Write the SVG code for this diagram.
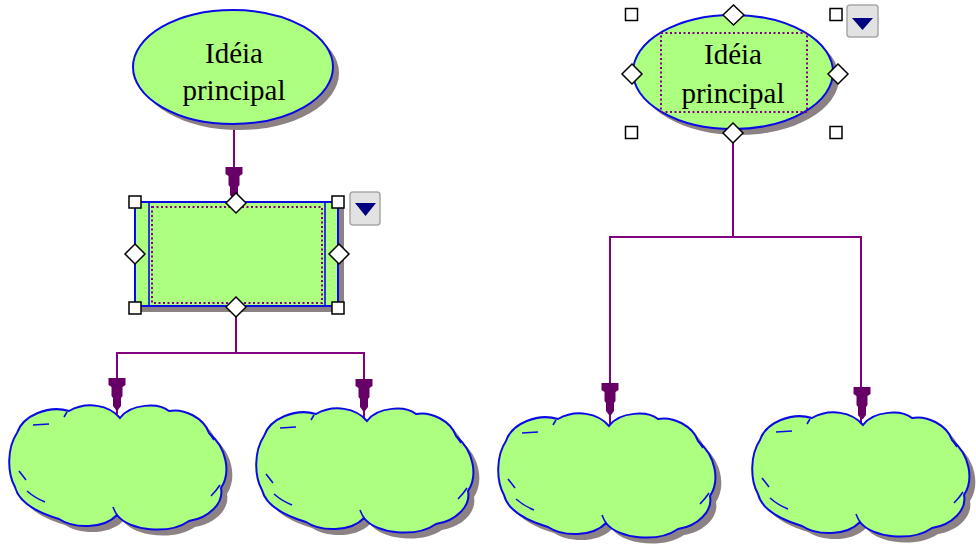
<svg xmlns="http://www.w3.org/2000/svg" xmlns:xlink="http://www.w3.org/1999/xlink" width="976" height="546" viewBox="0 0 976 546">
<style>
.shape{fill:#adff80;stroke:#0a0ae6;stroke-width:2}
.shadow{fill:#8c8284}
.line{fill:none;stroke:#800080;stroke-width:2}
.arrow{fill:#660066}
.dots{fill:none;stroke:#800080;stroke-width:2;stroke-dasharray:2 2.5}
.handle{fill:#fff;stroke:#000;stroke-width:1.5}
.mark{fill:none;stroke:#0a0ae6;stroke-width:1.6}
.txt{font-family:"Liberation Serif","Times New Roman",serif;font-size:29px;fill:#000;text-anchor:middle}
.btn{fill:#e2e2e2;stroke:#a8a8a8;stroke-width:1.5}
.tri{fill:#000080}
</style>
<defs>
<path id="cloudPath" d="M111,15 C100,2 78,-2 60,8 C40,2 14,12 8,30 C-2,45 -2,70 6,84 C10,100 30,110 50,116 C65,126 95,126 108,112 C120,128 160,132 180,118 C200,115 215,100 212,85 C222,70 218,45 200,30 C195,15 175,5 160,8 C150,0 122,0 111,15 Z"/>
<g id="cloudMarks">
<path class="mark" d="M24,22 L40,21"/>
<path class="mark" d="M58,9 L55,14"/>
<path class="mark" d="M10,68 Q14,73 17,77"/>
<path class="mark" d="M18,88 Q26,95 36,99"/>
<path class="mark" d="M104,104 Q106,109 108,112"/>
<path class="mark" d="M202,93 Q207,88 211,82"/>
<path class="mark" d="M200,30 Q203,34 205,37"/>
</g>
<path id="arr" d="M-8.5,-32 L8.5,-32 L8.5,-25 L5.5,-23 L5.5,-14 L4,-12 L4,-4 L1,0 L-1,0 L-4,-4 L-4,-12 L-5.5,-14 L-5.5,-23 L-8.5,-25 Z"/>
</defs>

<g id="connectors">
<path class="line" d="M234,124 V200"/>
<path class="line" d="M236,306 V353 M117,414 V353 H364 V420"/>
<path class="line" d="M733,133 V237 M610,425 V237 H861 V423"/>
<use href="#arr" class="arrow" transform="translate(234,199)"/>
<use href="#arr" class="arrow" transform="translate(117,410)"/>
<use href="#arr" class="arrow" transform="translate(364,411)"/>
<use href="#arr" class="arrow" transform="translate(610,415)"/>
<use href="#arr" class="arrow" transform="translate(862,419)"/>
</g>

<g id="idea-left">
<ellipse class="shadow" cx="239" cy="73" rx="100" ry="57"/>
<ellipse class="shape" cx="233" cy="67" rx="100" ry="57"/>
<text class="txt" x="234" y="63">Idéia</text>
<text class="txt" x="234" y="100">principal</text>
</g>

<g id="process-node">
<rect class="shadow" x="141" y="208" width="203" height="104"/>
<rect class="shape" x="135" y="202" width="203" height="104"/>
<path class="mark" d="M149,202 V306 M325,202 V306"/>
<rect class="dots" x="152" y="207" width="170" height="96"/>
<rect class="handle" x="129" y="196" width="12" height="12"/>
<rect class="handle" x="332" y="196" width="12" height="12"/>
<rect class="handle" x="129" y="302" width="12" height="12"/>
<rect class="handle" x="332" y="302" width="12" height="12"/>
<polygon class="handle" points="236,193 246,203 236,213 226,203"/>
<polygon class="handle" points="236,297 246,307 236,317 226,307"/>
<polygon class="handle" points="135,244 145,254 135,264 125,254"/>
<polygon class="handle" points="339,244 349,254 339,264 329,254"/>
<rect class="btn" x="350" y="192" width="30" height="33" rx="3"/>
<polygon class="tri" points="355,203 376,203 365.5,216"/>
</g>

<g id="idea-right">
<ellipse class="shadow" cx="739" cy="78" rx="100" ry="57"/>
<ellipse class="shape" cx="733" cy="72" rx="100" ry="57"/>
<rect class="dots" x="661" y="33" width="146" height="79"/>
<text class="txt" x="733" y="64">Idéia</text>
<text class="txt" x="733" y="103">principal</text>
<rect class="handle" x="625.5" y="8.5" width="12" height="12"/>
<rect class="handle" x="830" y="8.5" width="12" height="12"/>
<rect class="handle" x="625.5" y="126.5" width="12" height="12"/>
<rect class="handle" x="830" y="126.5" width="12" height="12"/>
<polygon class="handle" points="733.5,5 744,15 733.5,25 723,15"/>
<polygon class="handle" points="733,123 743,133 733,143 723,133"/>
<polygon class="handle" points="632,64 642,74 632,84 622,74"/>
<polygon class="handle" points="838,64 848,74 838,84 828,74"/>
<rect class="btn" x="847" y="5" width="31" height="32" rx="3"/>
<polygon class="tri" points="852,18 873,18 862.5,30"/>
</g>

<g id="cloud-1" transform="translate(9,403)">
<use href="#cloudPath" class="shadow" transform="translate(6,6)"/>
<use href="#cloudPath" class="shape"/>
<use href="#cloudMarks"/>
</g>
<g id="cloud-2" transform="translate(256,406)">
<use href="#cloudPath" class="shadow" transform="translate(6,6)"/>
<use href="#cloudPath" class="shape"/>
<use href="#cloudMarks"/>
</g>
<g id="cloud-3" transform="translate(498,411)">
<use href="#cloudPath" class="shadow" transform="translate(6,6)"/>
<use href="#cloudPath" class="shape"/>
<use href="#cloudMarks"/>
</g>
<g id="cloud-4" transform="translate(752,410)">
<use href="#cloudPath" class="shadow" transform="translate(6,6)"/>
<use href="#cloudPath" class="shape"/>
<use href="#cloudMarks"/>
</g>
</svg>
